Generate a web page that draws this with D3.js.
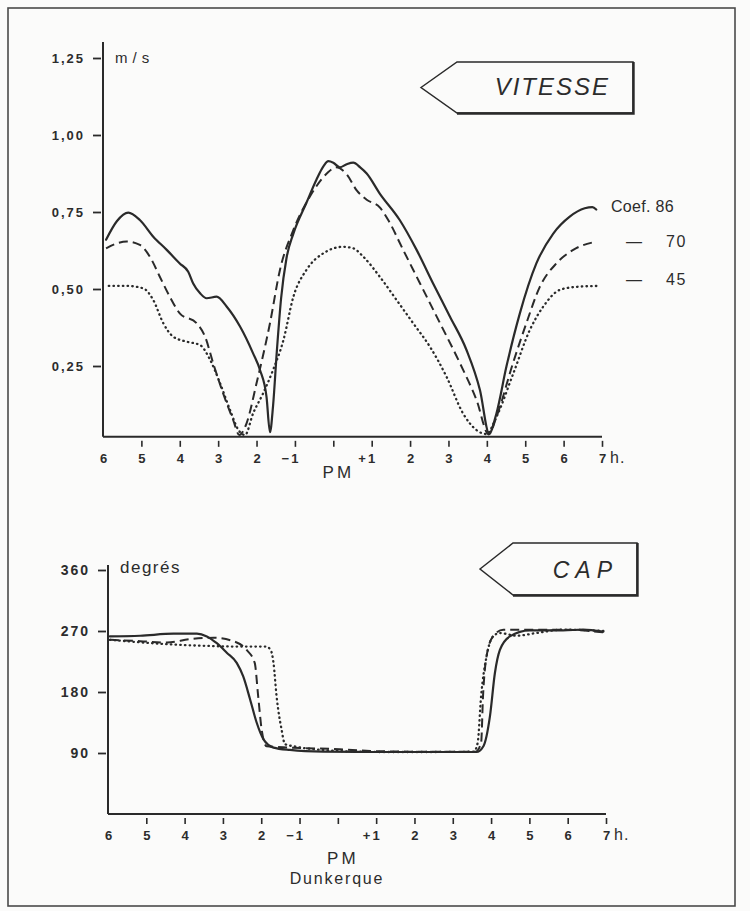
<!DOCTYPE html>
<html>
<head>
<meta charset="utf-8">
<script src="https://cdn.jsdelivr.net/npm/d3@7"></script>
<style>
  html, body { margin: 0; padding: 0; background: #fbfbfa; }
  svg { display: block; }
  text { font-family: "Liberation Sans", Arial, Helvetica, sans-serif; fill: #2c2c2c; }
</style>
</head>
<body>
<script>
// ---- Hours relative to high water (PM Dunkerque) ----
const hourTicks = [-6, -5, -4, -3, -2, -1, 0, 1, 2, 3, 4, 5, 6, 7];
const hourLabels = ["6", "5", "4", "3", "2", "\u22121", "", "+1", "2", "3", "4", "5", "6", "7"];

// ---- VITESSE (m/s), [hour, speed] ----
const speedTicks = [0.25, 0.5, 0.75, 1.0, 1.25];
const speedLabels = ["0,25", "0,50", "0,75", "1,00", "1,25"];
const speedAxisAt = 0.02;

const vitesse86 = [
  [-5.92, 0.66], [-5.64, 0.72], [-5.34, 0.748], [-5.04, 0.724], [-4.69, 0.67],
  [-4.34, 0.627], [-4.0, 0.583], [-3.78, 0.556], [-3.65, 0.518], [-3.47, 0.486],
  [-3.30, 0.47], [-3.04, 0.475], [-2.78, 0.443], [-2.43, 0.378], [-2.09, 0.291],
  [-1.91, 0.237], [-1.74, 0.15], [-1.65, 0.035], [-1.57, 0.12], [-1.47, 0.30],
  [-1.36, 0.47], [-1.22, 0.60], [-1.04, 0.68], [-0.70, 0.78], [-0.44, 0.855],
  [-0.25, 0.90], [-0.13, 0.915], [0.0, 0.91], [0.17, 0.895], [0.35, 0.905],
  [0.52, 0.91], [0.70, 0.895], [0.87, 0.875], [1.21, 0.81], [1.73, 0.724],
  [2.17, 0.627], [2.60, 0.518], [3.04, 0.41], [3.47, 0.302], [3.82, 0.172],
  [4.06, 0.031], [4.25, 0.096], [4.51, 0.248], [4.86, 0.421], [5.29, 0.583],
  [5.73, 0.68], [6.16, 0.735], [6.55, 0.762], [6.75, 0.766], [6.85, 0.758]
];
const vitesse70 = [
  [-5.92, 0.632], [-5.64, 0.648], [-5.38, 0.654], [-5.04, 0.643], [-4.78, 0.605],
  [-4.52, 0.54], [-4.26, 0.475], [-4.0, 0.421], [-3.56, 0.389], [-3.34, 0.345],
  [-3.13, 0.259], [-2.87, 0.161], [-2.61, 0.075], [-2.45, 0.026], [-2.26, 0.064],
  [-2.0, 0.194], [-1.65, 0.389], [-1.39, 0.562], [-1.04, 0.692], [-0.61, 0.80],
  [-0.17, 0.875], [0.07, 0.895], [0.35, 0.872], [0.61, 0.82], [0.87, 0.79],
  [1.21, 0.765], [1.43, 0.724], [1.82, 0.627], [2.26, 0.518], [2.78, 0.389],
  [3.30, 0.259], [3.73, 0.14], [4.05, 0.028], [4.25, 0.085], [4.68, 0.259],
  [5.03, 0.389], [5.38, 0.507], [5.81, 0.583], [6.25, 0.627], [6.85, 0.654]
];
const vitesse45 = [
  [-5.85, 0.51], [-5.38, 0.51], [-4.95, 0.502], [-4.69, 0.464], [-4.43, 0.389],
  [-4.17, 0.345], [-3.82, 0.329], [-3.47, 0.318], [-3.21, 0.27], [-2.95, 0.194],
  [-2.69, 0.107], [-2.47, 0.042], [-2.30, 0.026], [-2.09, 0.096], [-1.83, 0.161],
  [-1.57, 0.237], [-1.30, 0.334], [-1.04, 0.475], [-0.70, 0.562], [-0.26, 0.616],
  [0.26, 0.637], [0.52, 0.632], [0.78, 0.605], [1.21, 0.54], [1.65, 0.464],
  [2.08, 0.389], [2.52, 0.312], [2.95, 0.215], [3.38, 0.096], [3.73, 0.042],
  [3.99, 0.029], [4.25, 0.085], [4.69, 0.226], [5.12, 0.367], [5.47, 0.443],
  [5.90, 0.497], [6.34, 0.507], [6.94, 0.51]
];

// ---- CAP (degrés), [hour, heading] ----
const capTicks = [90, 180, 270, 360];
const capLabels = ["90", "180", "270", "360"];

const cap86 = [
  [-5.95, 262], [-5.16, 263], [-4.29, 266], [-3.68, 266], [-3.42, 262],
  [-3.16, 252], [-2.90, 238], [-2.64, 223], [-2.47, 203], [-2.29, 169],
  [-2.12, 135], [-1.94, 110], [-1.68, 98], [-1.25, 94.5], [-0.38, 92],
  [0.84, 91.5], [2.41, 91.5], [3.62, 91.5], [3.80, 100], [3.97, 144],
  [4.10, 208], [4.23, 242], [4.49, 262], [5.01, 271], [5.88, 271],
  [6.40, 272], [6.93, 269]
];
const cap70 = [
  [-5.95, 257], [-5.16, 255], [-4.46, 253], [-3.86, 258], [-3.25, 260],
  [-2.73, 255], [-2.38, 242], [-2.17, 223], [-2.08, 174], [-1.99, 125],
  [-1.86, 100], [-1.25, 98], [0.05, 95.5], [0.84, 93], [2.0, 92],
  [3.6, 92], [3.74, 105], [3.79, 174], [3.88, 232], [4.05, 262],
  [4.32, 272], [5.88, 272], [6.93, 268]
];
const cap45 = [
  [-5.95, 257], [-4.29, 250], [-3.42, 248], [-2.55, 247], [-1.86, 247],
  [-1.74, 240], [-1.68, 223], [-1.60, 174], [-1.47, 125], [-1.38, 103],
  [-1.16, 100], [0.05, 93], [1.06, 91.5], [2.5, 91.5], [3.55, 92],
  [3.65, 105], [3.74, 174], [3.88, 232], [4.05, 262], [4.23, 267],
  [4.66, 263], [5.18, 267], [5.88, 272], [6.93, 270]
];

const coefLabels = ["Coef. 86", "70", "45"];

// ---- drawing ----
const W = 750, H = 911;
const ink = "#2a2a2a";

const svg = d3.select("body").append("svg").attr("width", W).attr("height", H);
svg.append("rect").attr("width", W).attr("height", H).attr("fill", "#fbfbfa");

// page frame
svg.append("rect")
  .attr("x", 8).attr("y", 8).attr("width", 727).attr("height", 898)
  .attr("fill", "none").attr("stroke", "#4a4a4a").attr("stroke-width", 1.6);

const styles = {
  solid:  { dash: null,  width: 2.2, cap: "round" },
  dashed: { dash: "9,5", width: 2.0, cap: "butt" },
  dotted: { dash: "0.5,4.2", width: 2.3, cap: "round" }
};

function drawPanel(cfg) {
  const g = svg.append("g");
  const x = d3.scaleLinear().domain([-6, 7]).range(cfg.xRange);
  const y = d3.scaleLinear().domain(cfg.yDomain).range(cfg.yRange);
  const x0 = cfg.xRange[0];
  const axisY = y(cfg.axisAt);

  // vertical axis
  g.append("line")
    .attr("x1", x0).attr("x2", x0)
    .attr("y1", cfg.yAxisTop).attr("y2", axisY)
    .attr("stroke", ink).attr("stroke-width", 2);

  // horizontal axis
  g.append("line")
    .attr("x1", x0).attr("x2", x(7))
    .attr("y1", axisY).attr("y2", axisY)
    .attr("stroke", ink).attr("stroke-width", 2);

  // y ticks (short dashes left of axis) and labels
  const yAxis = d3.axisLeft(y)
    .tickValues(cfg.yTicks)
    .tickSize(8)
    .tickPadding(8)
    .tickFormat((d, i) => cfg.yLabels[i]);
  const ya = g.append("g").attr("transform", `translate(${x0 - 2},0)`).call(yAxis);
  ya.select(".domain").remove();
  ya.selectAll(".tick line").attr("stroke", ink).attr("stroke-width", 1.8);
  ya.selectAll(".tick text")
    .attr("fill", ink)
    .style("font-size", cfg.yFont + "px")
    .style("font-weight", "bold")
    .style("letter-spacing", "2px");

  // x ticks (detached below axis) and labels
  const xAxis = d3.axisBottom(x)
    .tickValues(hourTicks)
    .tickSize(6)
    .tickPadding(7)
    .tickFormat((d, i) => hourLabels[i]);
  const xa = g.append("g").attr("transform", `translate(0,${axisY + 4})`).call(xAxis);
  xa.select(".domain").remove();
  xa.selectAll(".tick line")
    .attr("stroke", ink).attr("stroke-width", 1.6)
    .attr("display", d => d === -6 ? "none" : null);
  xa.selectAll(".tick text")
    .attr("fill", ink)
    .style("font-size", "13px")
    .style("font-weight", "bold")
    .each(function (d, i) {
      const lab = hourLabels[i];
      if (lab.length === 2) d3.select(this).attr("text-anchor", "end").attr("x", 5).style("letter-spacing", "2px");
    });

  g.append("text")
    .attr("x", x(7) + 8).attr("y", axisY + 26)
    .style("font-size", "16px").style("letter-spacing", "1px")
    .text("h.");

  g.append("text")
    .attr("x", x(0) + 5).attr("y", axisY + cfg.pmDy)
    .attr("text-anchor", "middle")
    .style("font-size", "17px").style("letter-spacing", "3px")
    .text("PM");

  // unit label
  g.append("text")
    .attr("x", x0 + 12).attr("y", cfg.unitY)
    .style("font-size", cfg.unitFont + "px")
    .style("letter-spacing", cfg.unitSpacing + "px")
    .text(cfg.unit);

  // title arrow box
  const b = cfg.box;
  g.append("path")
    .attr("d", `M${b.tip},${(b.top + b.bottom) / 2} L${b.notch},${b.top} L${b.right},${b.top} L${b.right},${b.bottom} L${b.notch},${b.bottom} Z`)
    .attr("fill", "none").attr("stroke", ink).attr("stroke-width", 1.5)
    .attr("stroke-linejoin", "miter");
  g.append("path")
    .attr("d", `M${b.notch},${b.bottom + 0.5} L${b.right + 0.5},${b.bottom + 0.5} L${b.right + 0.5},${b.top}`)
    .attr("fill", "none").attr("stroke", ink).attr("stroke-width", 2.4);
  g.append("text")
    .attr("x", b.textX).attr("y", b.textY)
    .attr("text-anchor", "end")
    .style("font-size", b.font + "px")
    .style("font-style", "italic")
    .style("letter-spacing", b.spacing + "px")
    .text(b.label);

  // series
  const line = d3.line()
    .x(d => x(d[0]))
    .y(d => y(d[1]))
    .curve(d3.curveMonotoneX);
  cfg.series.forEach(s => {
    const st = styles[s.style];
    g.append("path")
      .datum(s.data)
      .attr("d", line)
      .attr("fill", "none")
      .attr("stroke", ink)
      .attr("stroke-width", st.width)
      .attr("stroke-linecap", st.cap)
      .attr("stroke-linejoin", "round")
      .attr("stroke-dasharray", st.dash);
  });
  return { x, y };
}

drawPanel({
  xRange: [103, 602],
  yDomain: [0, 1.25],
  yRange: [443, 58],
  axisAt: speedAxisAt,
  yAxisTop: 42,
  yTicks: speedTicks,
  yLabels: speedLabels,
  yFont: 13,
  pmDy: 41,
  unit: "m/s",
  unitY: 63,
  unitFont: 15,
  unitSpacing: 5,
  box: { tip: 421, notch: 457, right: 633, top: 62, bottom: 113,
         textX: 610, textY: 95, font: 24, spacing: 2, label: "VITESSE" },
  series: [
    { data: vitesse86, style: "solid" },
    { data: vitesse70, style: "dashed" },
    { data: vitesse45, style: "dotted" }
  ]
});

drawPanel({
  xRange: [108, 606],
  yDomain: [0, 360],
  yRange: [814, 570],
  axisAt: 0,
  yAxisTop: 565,
  yTicks: capTicks,
  yLabels: capLabels,
  yFont: 14,
  pmDy: 50,
  unit: "degrés",
  unitY: 573,
  unitFont: 17,
  unitSpacing: 1.5,
  box: { tip: 480, notch: 513, right: 637, top: 543, bottom: 595,
         textX: 618, textY: 578, font: 23, spacing: 6, label: "CAP" },
  series: [
    { data: cap86, style: "solid" },
    { data: cap70, style: "dashed" },
    { data: cap45, style: "dotted" }
  ]
});

// place name under the lower time axis
svg.append("text")
  .attr("x", 337).attr("y", 884)
  .attr("text-anchor", "middle")
  .style("font-size", "16px").style("letter-spacing", "1.8px")
  .text("Dunkerque");

// coefficient legend
const legend = svg.append("g").style("font-size", "16px");
legend.append("text").attr("x", 611).attr("y", 212).style("letter-spacing", "0.3px").text(coefLabels[0]);
[[coefLabels[1], 247], [coefLabels[2], 285]].forEach(([lab, yy]) => {
  legend.append("text").attr("x", 626).attr("y", yy).text("\u2014");
  legend.append("text").attr("x", 666).attr("y", yy).style("letter-spacing", "1.5px").text(lab);
});
</script>
</body>
</html>
